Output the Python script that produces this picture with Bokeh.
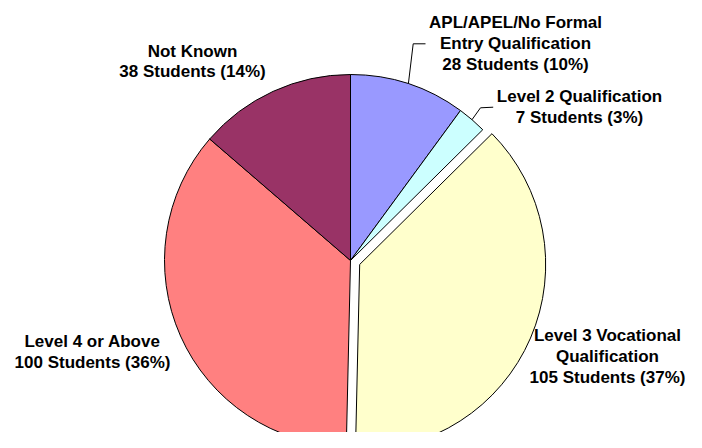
import math
from bokeh.plotting import figure
from bokeh.models import Range1d, ColumnDataSource
from bokeh.core.properties import value
from bokeh.embed import file_html
from bokeh.resources import INLINE

# ---- data ----
categories = ["APL/APEL/No Formal\nEntry Qualification", "Level 2 Qualification",
              "Level 3 Vocational\nQualification", "Level 4 or Above", "Not Known"]
students = [28, 7, 105, 100, 38]
percents = [10, 3, 37, 36, 14]
colors = ["#9999FF", "#CCFFFF", "#FFFFCC", "#FF8080", "#993366"]
explode = [0, 0, 10, 0, 0]

# ---- layout (reference pixel coords, y downwards) ----
W, H = 686, 432
OX, OY = 0, 0  # page offset of the figure
cx_pix, cy_pix, R = 350, 260, 186
label_pos = [(515, 43), (579, 106.5), (607, 356), (92, 351.5), (192, 61)]
leader_elbow = {0: [(412.7, 43.3), (425, 43.3)], 1: [(480, 107.3), (492.7, 106.7)]}

def Y(py):
    return 448 - py

p = figure(width=W, height=H, output_backend="svg", toolbar_location=None,
           x_range=Range1d(OX, OX + W), y_range=Range1d(448 - OY - H, 448 - OY),
           min_border=0)
p.axis.visible = False
p.grid.visible = False
p.outline_line_color = None
p.background_fill_color = "white"

total = sum(students)
cum = 0
xs, ys, sa, ea = [], [], [], []
mids = []
for i, v in enumerate(students):
    a0 = math.pi / 2 - 2 * math.pi * cum / total
    a1 = math.pi / 2 - 2 * math.pi * (cum + v) / total
    mid = (a0 + a1) / 2
    mids.append(mid)
    xs.append(cx_pix + explode[i] * math.cos(mid))
    ys.append(Y(cy_pix) + explode[i] * math.sin(mid))
    sa.append(a0)
    ea.append(a1)
    cum += v

src = ColumnDataSource(dict(x=xs, y=ys, start=sa, end=ea, color=colors))
p.wedge(x="x", y="y", radius=R, start_angle="start", end_angle="end",
        direction="clock", fill_color="color", line_color="black", line_width=1,
        source=src)

# leader lines
for i, pts in leader_elbow.items():
    x0 = cx_pix + R * math.cos(mids[i])
    y0 = Y(cy_pix) + R * math.sin(mids[i])
    lx = [x0] + [q[0] for q in pts]
    ly = [y0] + [Y(q[1]) for q in pts]
    p.line(lx, ly, line_color="black", line_width=1)

texts = [f"{c}\n{s} Students ({pc}%)" for c, s, pc in zip(categories, students, percents)]
tsrc = ColumnDataSource(dict(x=[q[0] for q in label_pos], y=[Y(q[1]) for q in label_pos], t=texts))
p.text(x="x", y="y", text="t", source=tsrc, text_align="center", text_baseline="middle",
       text_font=value("Liberation Sans"), text_font_style="bold", text_font_size="17px",
       text_line_height=1.1, text_color="black")

open("out.html", "w").write(file_html(p, INLINE))
